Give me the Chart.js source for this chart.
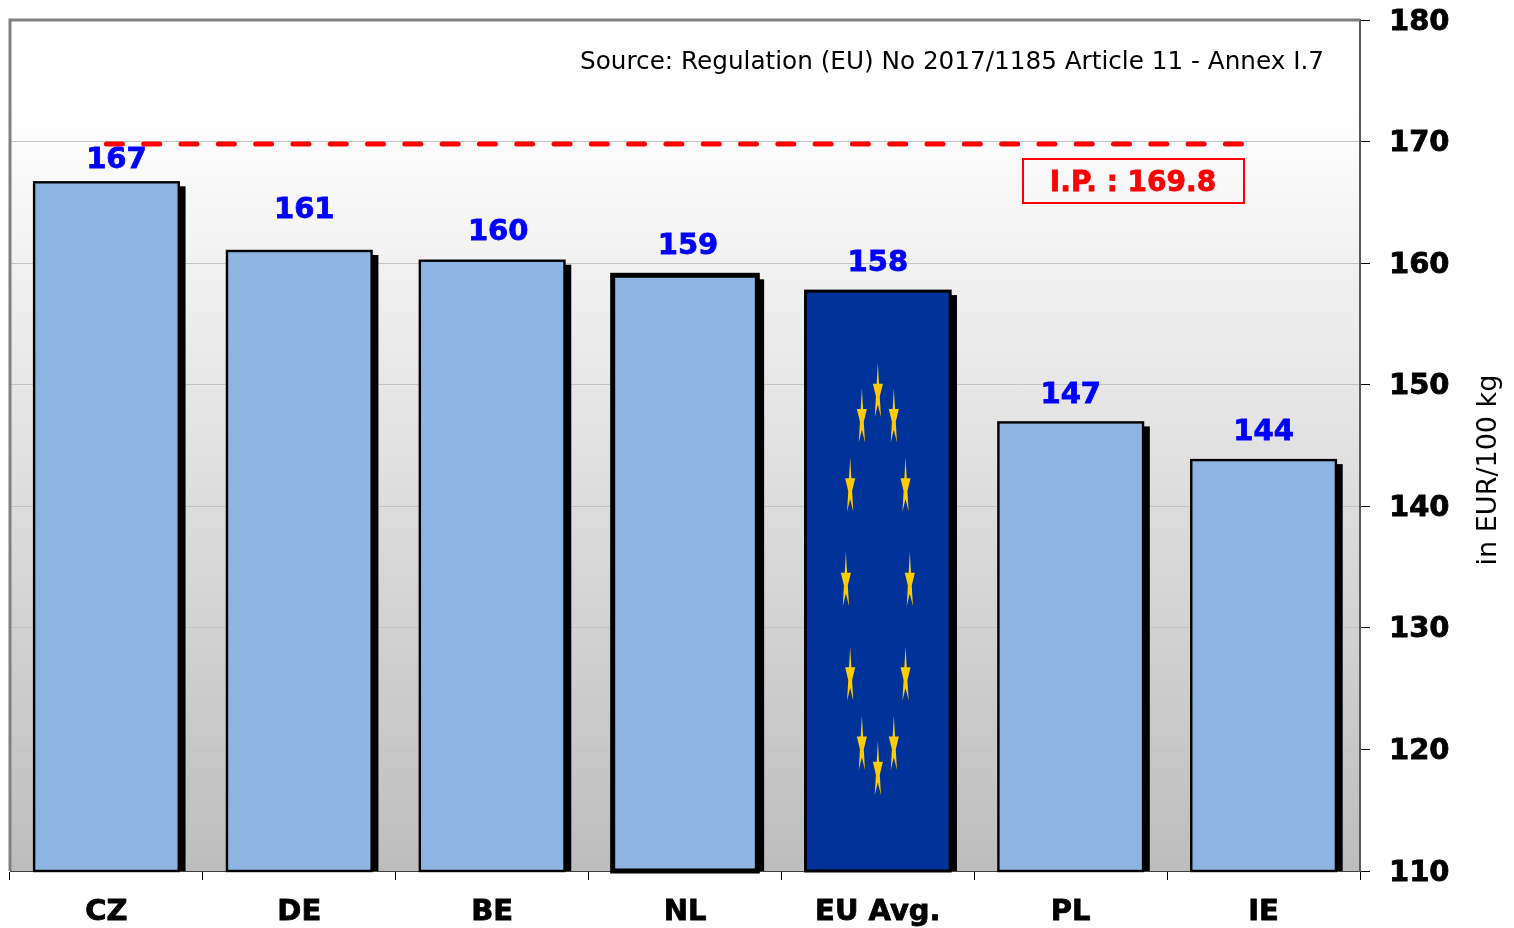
<!DOCTYPE html>
<html>
<head>
<meta charset="utf-8">
<title>Chart</title>
<style>
  html, body { margin: 0; padding: 0; background: #fff; }
  canvas { display: block; }
</style>
<script src="https://cdn.jsdelivr.net/npm/chart.js@4"></script>
</head>
<body>
<canvas id="grafico" width="1514" height="928"></canvas>
<script>
const paises = ['CZ', 'DE', 'BE', 'NL', 'EU Avg.', 'PL', 'IE'];
const valores = [166.65, 161, 160.2, 159, 157.7, 146.9, 143.8];
const valorIP = 169.8;
// the I.P. line runs from the first category centre to just short of the last one
const ipInicio = 0;
const ipFim = 5.9;

const FONTE = "'DejaVu Sans', sans-serif";
const COR_BARRA = '#8eb4e3';
const COR_EU = '#003399';
const EU_IDX = paises.indexOf('EU Avg.');
const bordas = [2.4, 2.4, 2.4, 5, 3, 2.4, 2.4];
// small hand nudges of the value labels (px), the source chart has them placed by hand
const rotuloDx = [10, 5, 6, 3, 0, 0, 0];
const rotuloDy = [-22, -41, -28, -29, -28, -27, -28];

function estrela(ctx, cx, cy, rx, ry) {
  ctx.beginPath();
  for (let i = 0; i < 10; i++) {
    const r = i % 2 === 0 ? 1 : 0.382;
    const a = -Math.PI / 2 + i * Math.PI / 5;
    const x = cx + Math.cos(a) * rx * r;
    const y = cy + Math.sin(a) * ry * r;
    if (i === 0) ctx.moveTo(x, y); else ctx.lineTo(x, y);
  }
  ctx.closePath();
  ctx.fill();
}

const decoracao = {
  id: 'decoracao',
  beforeDraw(chart) {
    const { ctx, chartArea: a } = chart;
    const g = ctx.createLinearGradient(0, a.top, 0, a.bottom);
    g.addColorStop(0, '#ffffff');
    g.addColorStop(0.1, '#ffffff');
    g.addColorStop(1, '#bdbdbd');
    ctx.save();
    ctx.fillStyle = g;
    ctx.fillRect(a.left, a.top, a.right - a.left, a.bottom - a.top);
    ctx.restore();

    // y tick labels sit 2px lower in the source than the middle baseline gives
    if (!chart.$ticksNudged) {
      chart.scales.y.getLabelItems(a).forEach(it => { it.options.translation[1] += 2; });
      chart.$ticksNudged = true;
    }
  },
  beforeDatasetsDraw(chart) {
    // black drop shadow behind the bars
    const { ctx, chartArea: a } = chart;
    const barras = chart.getDatasetMeta(0).data;
    ctx.save();
    ctx.fillStyle = '#000';
    barras.forEach(b => {
      const dir = b.x + b.width / 2;
      ctx.fillRect(dir - 4, b.y + 4, 10.8, a.bottom - b.y - 4);
    });
    ctx.restore();
  },
  afterDatasetsDraw(chart) {
    const { ctx, chartArea: a, scales } = chart;
    const barras = chart.getDatasetMeta(0).data;
    ctx.save();

    // outlines are centred on the bar edges, not inset like the library's borderWidth
    ctx.strokeStyle = '#000';
    barras.forEach((b, i) => {
      ctx.lineWidth = bordas[i];
      ctx.strokeRect(b.x - b.width / 2, b.y, b.width, a.bottom - b.y);
    });

    // EU stars, twelve on an ellipse inside the bar
    const eu = barras[EU_IDX];
    const cy = (eu.y + a.bottom) / 2 + 1;
    ctx.fillStyle = '#ffcc00';
    for (let i = 0; i < 12; i++) {
      const ang = i * Math.PI / 6;
      estrela(ctx, eu.x + Math.sin(ang) * eu.width * 0.221, cy - Math.cos(ang) * (a.bottom - eu.y) * 0.326, 5.3, 30);
    }

    // value labels
    ctx.font = `bold 29px ${FONTE}`;
    ctx.fillStyle = '#0000ff';
    ctx.strokeStyle = '#0000ff';
    ctx.lineWidth = 0.8;
    ctx.textAlign = 'center';
    ctx.textBaseline = 'middle';
    barras.forEach((b, i) => {
      const t = String(Math.round(valores[i]));
      ctx.fillText(t, b.x + rotuloDx[i], b.y + rotuloDy[i]);
      ctx.strokeText(t, b.x + rotuloDx[i], b.y + rotuloDy[i]);
    });

    // source note
    ctx.font = `24.7px ${FONTE}`;
    ctx.fillStyle = '#000';
    ctx.textAlign = 'right';
    ctx.fillText('Source: Regulation (EU) No 2017/1185 Article 11 - Annex I.7', 1324, 63);

    // I.P. box
    const yIP = scales.y.getPixelForValue(valorIP);
    ctx.strokeStyle = '#ff0000';
    ctx.lineWidth = 2;
    ctx.strokeRect(1023, yIP + 15, 221, 44);
    ctx.font = `bold 28px ${FONTE}`;
    ctx.fillStyle = '#ff0000';
    ctx.strokeStyle = '#ff0000';
    ctx.lineWidth = 0.8;
    ctx.textAlign = 'center';
    const ip = 'I.P. : ' + valorIP.toFixed(1);
    ctx.fillText(ip, 1133, yIP + 40);
    ctx.strokeText(ip, 1133, yIP + 40);

    // y axis title, reads bottom to top
    ctx.translate(1489, 470);
    ctx.rotate(-Math.PI / 2);
    ctx.font = `27px ${FONTE}`;
    ctx.fillStyle = '#000';
    ctx.fillText('in EUR/100 kg', 0, 0);

    ctx.restore();

    // plot frame, top and left
    ctx.save();
    ctx.strokeStyle = '#808080';
    ctx.lineWidth = 3;
    ctx.beginPath();
    ctx.moveTo(a.left, a.bottom);
    ctx.lineTo(a.left, a.top);
    ctx.lineTo(a.right, a.top);
    ctx.stroke();
    ctx.restore();
  },
};

new Chart(document.getElementById('grafico'), {
  type: 'bar',
  data: {
    labels: paises,
    datasets: [
      {
        type: 'bar',
        data: valores,
        backgroundColor: paises.map((_, i) => i === EU_IDX ? COR_EU : COR_BARRA),
        borderWidth: 0,
        grouped: false,
        categoryPercentage: 1,
        barPercentage: 0.75,
        order: 2,
      },
      {
        type: 'line',
        xAxisID: 'x2',
        data: [{ x: ipInicio, y: valorIP }, { x: ipFim, y: valorIP }],
        borderColor: '#ff0000',
        borderWidth: 5,
        borderDash: [16, 21.3],
        borderCapStyle: 'round',
        pointRadius: 0,
        order: 1,
      },
    ],
  },
  options: {
    responsive: false,
    animation: false,
    layout: { padding: { left: 10, top: 20, right: 0, bottom: 0 } },
    plugins: { legend: { display: false }, tooltip: { enabled: false } },
    scales: {
      x: {
        offset: true,
        grid: { offset: true, drawOnChartArea: false, color: '#000', tickLength: 9 },
        border: { color: '#404040', width: 1 },
        ticks: { color: '#000', font: { family: FONTE, size: 29, weight: 'bold' }, padding: 15, maxRotation: 0, autoSkip: false, textStrokeColor: '#000', textStrokeWidth: 0.8 },
        afterFit: s => { s.height = 57; s.paddingLeft = 0; s.paddingRight = 0; },
      },
      x2: { type: 'linear', display: false, offset: false, min: -0.5, max: 6.5 },
      y: {
        position: 'right',
        min: 110,
        max: 180,
        grid: { color: '#c4c4c4', tickColor: '#000', tickLength: 10, lineWidth: 1 },
        border: { color: '#595959', width: 2 },
        ticks: { stepSize: 10, color: '#000', font: { family: FONTE, size: 29, weight: 'bold' }, padding: 19, textStrokeColor: '#000', textStrokeWidth: 0.8 },
        afterFit: s => { s.width = 154; s.paddingTop = 0; s.paddingBottom = 0; },
      },
    },
  },
  plugins: [decoracao],
});
</script>
</body>
</html>
